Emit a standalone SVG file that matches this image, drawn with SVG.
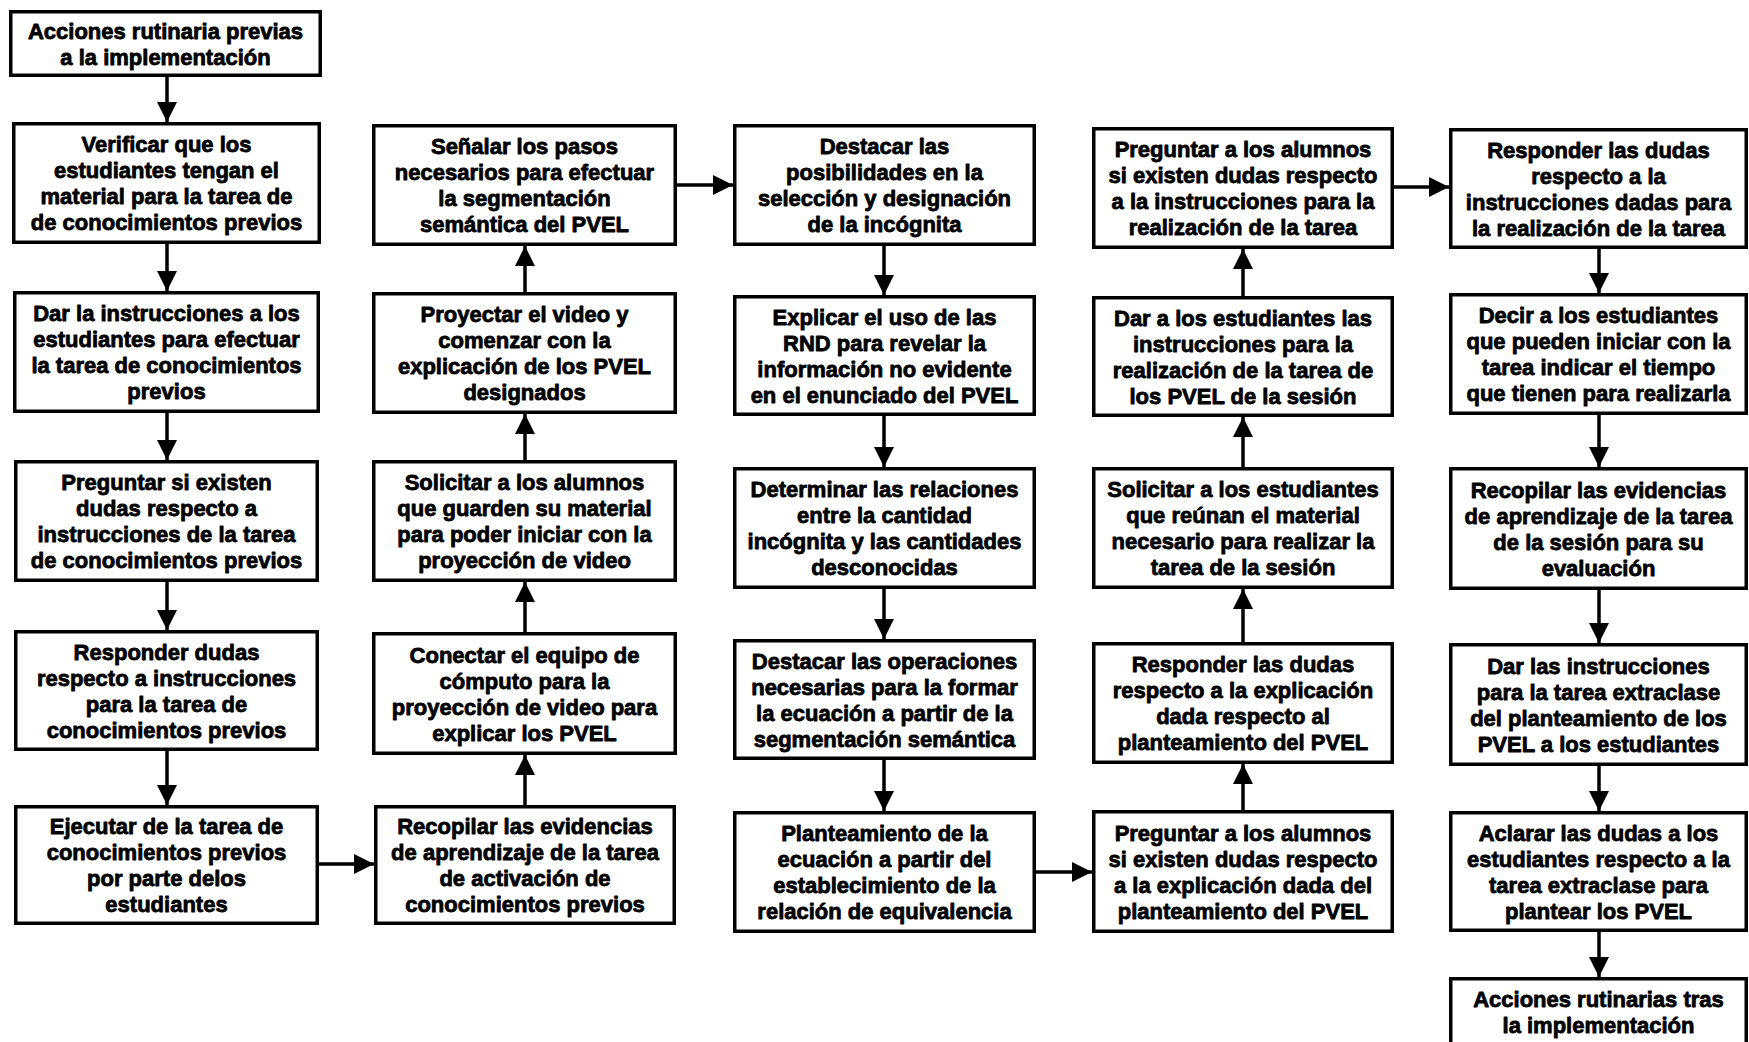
<svg xmlns="http://www.w3.org/2000/svg" width="1749" height="1042" viewBox="0 0 1749 1042">
  <style>
    .box { fill: #ffffff; stroke: #000000; stroke-width: 3.5; }
    .lbl { font-family: "Liberation Sans", Arial, sans-serif; font-weight: 700; font-size: 22px; text-anchor: middle; fill: #000000; stroke: #000000; stroke-width: 0.8; stroke-linejoin: round; }
    .edge { stroke: #000000; stroke-width: 3.5; fill: none; marker-end: url(#arrow); }
  </style>
  <defs>
    <marker id="arrow" markerUnits="userSpaceOnUse" markerWidth="20" markerHeight="20" viewBox="0 0 20 20" refX="20" refY="10" orient="auto">
      <path d="M0,0 L20,10 L0,20 Z" fill="#000000"/>
    </marker>
  </defs>
  <rect x="0" y="0" width="1749" height="1042" fill="#ffffff"/>

  <!-- connectors -->
  <g id="connectors">
    <!-- column 1, downward -->
    <line class="edge" x1="167" y1="77" x2="167" y2="122"/>
    <line class="edge" x1="167" y1="244" x2="167" y2="291"/>
    <line class="edge" x1="167" y1="413" x2="167" y2="460"/>
    <line class="edge" x1="167" y1="582" x2="167" y2="630"/>
    <line class="edge" x1="167" y1="751" x2="167" y2="805"/>
    <line class="edge" x1="319" y1="864" x2="374" y2="864"/>
    <!-- column 2, upward -->
    <line class="edge" x1="525" y1="805" x2="525" y2="755"/>
    <line class="edge" x1="525" y1="632" x2="525" y2="582"/>
    <line class="edge" x1="525" y1="460" x2="525" y2="414"/>
    <line class="edge" x1="525" y1="292" x2="525" y2="246"/>
    <line class="edge" x1="677" y1="185" x2="733" y2="185"/>
    <!-- column 3, downward -->
    <line class="edge" x1="884" y1="246" x2="884" y2="295"/>
    <line class="edge" x1="884" y1="416" x2="884" y2="467"/>
    <line class="edge" x1="884" y1="589" x2="884" y2="639"/>
    <line class="edge" x1="884" y1="760" x2="884" y2="811"/>
    <line class="edge" x1="1036" y1="872" x2="1092" y2="872"/>
    <!-- column 4, upward -->
    <line class="edge" x1="1243" y1="810" x2="1243" y2="764"/>
    <line class="edge" x1="1243" y1="642" x2="1243" y2="589"/>
    <line class="edge" x1="1243" y1="467" x2="1243" y2="417"/>
    <line class="edge" x1="1243" y1="296" x2="1243" y2="249"/>
    <line class="edge" x1="1394" y1="187" x2="1449" y2="187"/>
    <!-- column 5, downward -->
    <line class="edge" x1="1599" y1="249" x2="1599" y2="293"/>
    <line class="edge" x1="1599" y1="415" x2="1599" y2="467"/>
    <line class="edge" x1="1599" y1="590" x2="1599" y2="643"/>
    <line class="edge" x1="1599" y1="766" x2="1599" y2="811"/>
    <line class="edge" x1="1599" y1="932" x2="1599" y2="977"/>
  </g>

  <!-- column 1 -->
  <g id="n-acciones-previas">
    <rect class="box" x="10.75" y="11.75" width="309.5" height="63.5"/>
    <text class="lbl" x="165.5" y="38.5">Acciones rutinaria previas<tspan x="165.5" dy="26">a la implementación</tspan></text>
  </g>
  <g id="n-verificar">
    <rect class="box" x="13.75" y="123.75" width="305.5" height="118.5"/>
    <text class="lbl" x="166.5" y="152">Verificar que los<tspan x="166.5" dy="26">estudiantes tengan el</tspan><tspan x="166.5" dy="26">material para la tarea de</tspan><tspan x="166.5" dy="26">de conocimientos  previos</tspan></text>
  </g>
  <g id="n-dar-instrucciones">
    <rect class="box" x="14.75" y="292.75" width="303.5" height="118.5"/>
    <text class="lbl" x="166.5" y="321">Dar la instrucciones a los<tspan x="166.5" dy="26">estudiantes para efectuar</tspan><tspan x="166.5" dy="26">la tarea de conocimientos</tspan><tspan x="166.5" dy="26">previos</tspan></text>
  </g>
  <g id="n-preguntar-si">
    <rect class="box" x="15.75" y="461.75" width="301.5" height="118.5"/>
    <text class="lbl" x="166.5" y="490">Preguntar si existen<tspan x="166.5" dy="26">dudas respecto a</tspan><tspan x="166.5" dy="26">instrucciones de la tarea</tspan><tspan x="166.5" dy="26">de conocimientos  previos</tspan></text>
  </g>
  <g id="n-responder-dudas">
    <rect class="box" x="15.75" y="631.75" width="301.5" height="117.5"/>
    <text class="lbl" x="166.5" y="659.5">Responder dudas<tspan x="166.5" dy="26">respecto a instrucciones</tspan><tspan x="166.5" dy="26">para la tarea de</tspan><tspan x="166.5" dy="26">conocimientos  previos</tspan></text>
  </g>
  <g id="n-ejecutar">
    <rect class="box" x="15.75" y="806.75" width="301.5" height="116.5"/>
    <text class="lbl" x="166.5" y="834">Ejecutar de la tarea de<tspan x="166.5" dy="26">conocimientos  previos</tspan><tspan x="166.5" dy="26">por parte delos</tspan><tspan x="166.5" dy="26">estudiantes</tspan></text>
  </g>

  <!-- column 2 -->
  <g id="n-recopilar-activacion">
    <rect class="box" x="375.75" y="806.75" width="298.5" height="116.5"/>
    <text class="lbl" x="525" y="834">Recopilar las evidencias<tspan x="525" dy="26">de aprendizaje de la tarea</tspan><tspan x="525" dy="26">de activación de</tspan><tspan x="525" dy="26">conocimientos  previos</tspan></text>
  </g>
  <g id="n-conectar">
    <rect class="box" x="373.75" y="633.75" width="301.5" height="119.5"/>
    <text class="lbl" x="524.5" y="662.5">Conectar el equipo de<tspan x="524.5" dy="26">cómputo  para la</tspan><tspan x="524.5" dy="26">proyección de video para</tspan><tspan x="524.5" dy="26">explicar los PVEL</tspan></text>
  </g>
  <g id="n-solicitar-alumnos">
    <rect class="box" x="373.75" y="461.75" width="301.5" height="118.5"/>
    <text class="lbl" x="524.5" y="490">Solicitar a los alumnos<tspan x="524.5" dy="26">que guarden su material</tspan><tspan x="524.5" dy="26">para poder iniciar con la</tspan><tspan x="524.5" dy="26">proyección de video</tspan></text>
  </g>
  <g id="n-proyectar">
    <rect class="box" x="373.75" y="293.75" width="301.5" height="118.5"/>
    <text class="lbl" x="524.5" y="322">Proyectar el video y<tspan x="524.5" dy="26">comenzar con la</tspan><tspan x="524.5" dy="26">explicación de los PVEL</tspan><tspan x="524.5" dy="26">designados</tspan></text>
  </g>
  <g id="n-senalar">
    <rect class="box" x="373.75" y="125.75" width="301.5" height="118.5"/>
    <text class="lbl" x="524.5" y="154">Señalar los pasos<tspan x="524.5" dy="26">necesarios para efectuar</tspan><tspan x="524.5" dy="26">la segmentación</tspan><tspan x="524.5" dy="26">semántica del PVEL</tspan></text>
  </g>

  <!-- column 3 -->
  <g id="n-destacar-posibilidades">
    <rect class="box" x="734.75" y="125.75" width="299.5" height="118.5"/>
    <text class="lbl" x="884.5" y="154">Destacar las<tspan x="884.5" dy="26">posibilidades en la</tspan><tspan x="884.5" dy="26">selección y designación</tspan><tspan x="884.5" dy="26">de la incógnita</tspan></text>
  </g>
  <g id="n-explicar-rnd">
    <rect class="box" x="734.75" y="296.75" width="299.5" height="117.5"/>
    <text class="lbl" x="884.5" y="324.5">Explicar el uso de las<tspan x="884.5" dy="26">RND para revelar la</tspan><tspan x="884.5" dy="26">información  no evidente</tspan><tspan x="884.5" dy="26">en el enunciado del  PVEL</tspan></text>
  </g>
  <g id="n-determinar">
    <rect class="box" x="734.75" y="468.75" width="299.5" height="118.5"/>
    <text class="lbl" x="884.5" y="497">Determinar las relaciones<tspan x="884.5" dy="26">entre la cantidad</tspan><tspan x="884.5" dy="26">incógnita y las cantidades</tspan><tspan x="884.5" dy="26">desconocidas</tspan></text>
  </g>
  <g id="n-destacar-operaciones">
    <rect class="box" x="734.75" y="640.75" width="299.5" height="117.5"/>
    <text class="lbl" x="884.5" y="668.5">Destacar las operaciones<tspan x="884.5" dy="26">necesarias para la formar</tspan><tspan x="884.5" dy="26">la ecuación a partir de la</tspan><tspan x="884.5" dy="26">segmentación  semántica</tspan></text>
  </g>
  <g id="n-planteamiento">
    <rect class="box" x="734.75" y="812.75" width="299.5" height="118.5"/>
    <text class="lbl" x="884.5" y="841">Planteamiento  de la<tspan x="884.5" dy="26">ecuación a partir del</tspan><tspan x="884.5" dy="26">establecimiento  de la</tspan><tspan x="884.5" dy="26">relación de equivalencia</tspan></text>
  </g>

  <!-- column 4 -->
  <g id="n-preguntar-explicacion">
    <rect class="box" x="1093.75" y="811.75" width="298.5" height="119.5"/>
    <text class="lbl" x="1243" y="840.5">Preguntar a los alumnos<tspan x="1243" dy="26">si existen dudas respecto</tspan><tspan x="1243" dy="26">a la explicación dada del</tspan><tspan x="1243" dy="26">planteamiento  del PVEL</tspan></text>
  </g>
  <g id="n-responder-explicacion">
    <rect class="box" x="1093.75" y="643.75" width="298.5" height="118.5"/>
    <text class="lbl" x="1243" y="672">Responder las dudas<tspan x="1243" dy="26">respecto a la explicación</tspan><tspan x="1243" dy="26">dada respecto al</tspan><tspan x="1243" dy="26">planteamiento  del PVEL</tspan></text>
  </g>
  <g id="n-solicitar-estudiantes">
    <rect class="box" x="1093.75" y="468.75" width="298.5" height="118.5"/>
    <text class="lbl" x="1243" y="497">Solicitar a los estudiantes<tspan x="1243" dy="26">que reúnan el material</tspan><tspan x="1243" dy="26">necesario para realizar la</tspan><tspan x="1243" dy="26">tarea de la sesión</tspan></text>
  </g>
  <g id="n-dar-estudiantes">
    <rect class="box" x="1093.75" y="297.75" width="298.5" height="117.5"/>
    <text class="lbl" x="1243" y="325.5">Dar a los estudiantes las<tspan x="1243" dy="26">instrucciones para la</tspan><tspan x="1243" dy="26">realización de la tarea de</tspan><tspan x="1243" dy="26">los PVEL de la sesión</tspan></text>
  </g>
  <g id="n-preguntar-instrucciones">
    <rect class="box" x="1093.75" y="128.75" width="298.5" height="118.5"/>
    <text class="lbl" x="1243" y="157">Preguntar a los alumnos<tspan x="1243" dy="26">si existen dudas respecto</tspan><tspan x="1243" dy="26">a la instrucciones para la</tspan><tspan x="1243" dy="26">realización de la tarea</tspan></text>
  </g>

  <!-- column 5 -->
  <g id="n-responder-instrucciones">
    <rect class="box" x="1450.75" y="129.75" width="295.5" height="117.5"/>
    <text class="lbl" x="1598.5" y="157.5">Responder las dudas<tspan x="1598.5" dy="26">respecto a la</tspan><tspan x="1598.5" dy="26">instrucciones dadas para</tspan><tspan x="1598.5" dy="26">la realización de la tarea</tspan></text>
  </g>
  <g id="n-decir">
    <rect class="box" x="1450.75" y="294.75" width="295.5" height="118.5"/>
    <text class="lbl" x="1598.5" y="323">Decir a los estudiantes<tspan x="1598.5" dy="26">que pueden iniciar con la</tspan><tspan x="1598.5" dy="26">tarea indicar el tiempo</tspan><tspan x="1598.5" dy="26">que tienen para realizarla</tspan></text>
  </g>
  <g id="n-recopilar-sesion">
    <rect class="box" x="1450.75" y="468.75" width="295.5" height="119.5"/>
    <text class="lbl" x="1598.5" y="497.5">Recopilar las evidencias<tspan x="1598.5" dy="26">de aprendizaje de la tarea</tspan><tspan x="1598.5" dy="26">de la sesión para su</tspan><tspan x="1598.5" dy="26">evaluación</tspan></text>
  </g>
  <g id="n-dar-extraclase">
    <rect class="box" x="1450.75" y="644.75" width="295.5" height="119.5"/>
    <text class="lbl" x="1598.5" y="673.5">Dar las instrucciones<tspan x="1598.5" dy="26">para la tarea extraclase</tspan><tspan x="1598.5" dy="26">del planteamiento  de los</tspan><tspan x="1598.5" dy="26">PVEL a los estudiantes</tspan></text>
  </g>
  <g id="n-aclarar">
    <rect class="box" x="1450.75" y="812.75" width="295.5" height="117.5"/>
    <text class="lbl" x="1598.5" y="840.5">Aclarar las dudas a los<tspan x="1598.5" dy="26">estudiantes respecto a la</tspan><tspan x="1598.5" dy="26">tarea extraclase para</tspan><tspan x="1598.5" dy="26">plantear los PVEL</tspan></text>
  </g>
  <g id="n-acciones-tras">
    <rect class="box" x="1450.75" y="978.75" width="295.5" height="80"/>
    <text class="lbl" x="1598.5" y="1007">Acciones rutinarias tras<tspan x="1598.5" dy="26">la implementación</tspan></text>
  </g>
</svg>
